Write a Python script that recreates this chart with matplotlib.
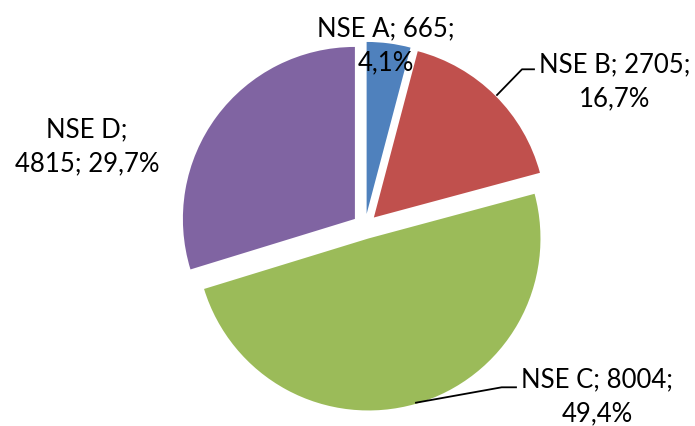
import matplotlib
matplotlib.use("Agg")
import matplotlib.pyplot as plt

# data
categorias = ["NSE A", "NSE B", "NSE C", "NSE D"]
valores = [665, 2705, 8004, 4815]
porcentajes = ["4,1%", "16,7%", "49,4%", "29,7%"]
colores = ["#4F81BD", "#C0504D", "#9BBB59", "#8064A2"]

W, H = 695, 426
plt.rcParams['font.family'] = ['Lato', 'DejaVu Sans']

fig = plt.figure(figsize=(W / 100, H / 100), dpi=100)

# pie of radius 1 -> 172 px, centre at (365, 226) px
cx, cy, r_px = 365, 226.4, 172
lim = 1.1
size = 2 * lim * r_px
ax = fig.add_axes([(cx - size / 2) / W, (H - cy - size / 2) / H, size / W, size / H])
ax.pie(valores, colors=colores, startangle=90, counterclock=False,
       explode=[0.073] * 4, radius=1, wedgeprops=dict(linewidth=0))
ax.set_xlim(-lim, lim)
ax.set_ylim(-lim, lim)
ax.set_aspect('equal')
ax.axis('off')

def fx(x, y):
    return x / W, 1 - y / H

# label text, centred blocks (pixel positions of block centre)
textos = {
    "NSE A": f"NSE A; {valores[0]};\n{porcentajes[0]}",
    "NSE B": f"NSE B; {valores[1]};\n{porcentajes[1]}",
    "NSE C": f"NSE C; {valores[2]};\n{porcentajes[2]}",
    "NSE D": f"NSE D;\n{valores[3]}; {porcentajes[3]}",
}
pos = {"NSE A": (386, 46), "NSE B": (615, 82), "NSE C": (597, 397), "NSE D": (87, 147)}
for c in categorias:
    x, y = fx(*pos[c])
    fig.text(x, y, textos[c], ha='center', va='center', fontsize=18.5,
             linespacing=1.45, color='black')

# leader lines for B and C
lineas = [
    [(497, 95), (522, 69.3), (534, 69.3)],
    [(416, 402.7), (501.7, 387.3), (516, 387.3)],
]
for ln in lineas:
    xs = [p[0] / W for p in ln]
    ys = [1 - p[1] / H for p in ln]
    fig.add_artist(plt.Line2D(xs, ys, color='black', linewidth=1.3))

fig.savefig("out.png", dpi=100)
